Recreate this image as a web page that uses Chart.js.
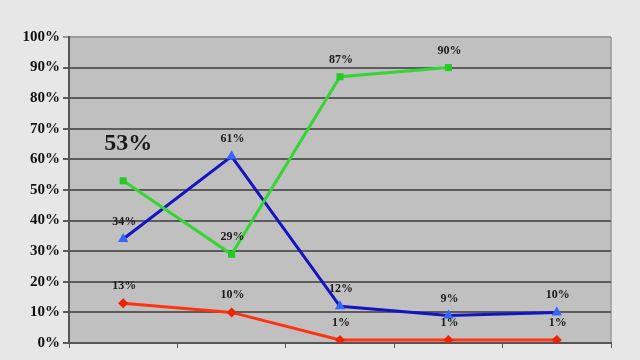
<!DOCTYPE html>
<html>
<head>
<meta charset="utf-8">
<script src="https://cdn.jsdelivr.net/npm/chart.js@4/dist/chart.umd.min.js"></script>
<style>
  html, body { margin: 0; padding: 0; background: #e7e7e7; }
  #wrap { width: 640px; height: 360px; }
</style>
</head>
<body>
<div id="wrap"><canvas id="mycanvas"></canvas></div>
<script>
var categories = ['1', '2', '3', '4', '5'];
var greenValues = [53, 29, 87, 90, null];
var blueValues = [34, 61, 12, 9, 10];
var redValues = [13, 10, 1, 1, 1];
var yTicks = [0, 10, 20, 30, 40, 50, 60, 70, 80, 90, 100];

var plotBg = {
  id: 'plotBg',
  beforeDraw: function(chart) {
    var a = chart.chartArea, c = chart.ctx;
    c.save();
    c.fillStyle = '#c0c0c0';
    c.fillRect(a.left, a.top, a.right - a.left, a.bottom - a.top);
    c.strokeStyle = '#a8a8a8';
    c.lineWidth = 2;
    c.beginPath();
    c.moveTo(a.right, a.top);
    c.lineTo(a.right, a.bottom);
    c.stroke();
    c.restore();
  }
};

var pointLabels = {
  id: 'pointLabels',
  afterDatasetsDraw: function(chart) {
    var c = chart.ctx;
    c.save();
    c.fillStyle = '#1a1a1a';
    c.textAlign = 'center';
    c.textBaseline = 'middle';
    chart.data.datasets.forEach(function(ds, i) {
      var meta = chart.getDatasetMeta(i);
      meta.data.forEach(function(pt, j) {
        var v = ds.data[j];
        if (v === null) return;
        if (i === 0 && j === 0) {
          c.font = 'bold 24px "Liberation Serif", serif';
          c.fillText(v + '%', pt.x + 5, pt.y - 37);
        } else {
          c.font = 'bold 12px "Liberation Serif", serif';
          c.fillText(v + '%', pt.x + 1, pt.y - 17);
        }
      });
    });
    c.restore();
  }
};

var ctx = document.getElementById('mycanvas');
var lineGraph = new Chart(ctx, {
  type: 'line',
  data: {
    labels: categories,
    datasets: [
      {
        label: 'Verde',
        data: greenValues,
        borderColor: '#33d633',
        backgroundColor: '#22cc22',
        borderWidth: 3,
        pointStyle: 'rect',
        pointRadius: 5,
        pointBorderWidth: 0
      },
      {
        label: 'Azul',
        data: blueValues,
        borderColor: '#1414c0',
        backgroundColor: '#3366ff',
        borderWidth: 3,
        pointStyle: 'triangle',
        pointRadius: 6,
        pointBorderWidth: 0
      },
      {
        label: 'Rojo',
        data: redValues,
        borderColor: '#ff3311',
        backgroundColor: '#ee2200',
        borderWidth: 3,
        pointStyle: 'rectRot',
        pointRadius: 5,
        pointBorderWidth: 0
      }
    ]
  },
  options: {
    responsive: true,
    maintainAspectRatio: false,
    animation: false,
    layout: { padding: { left: 0, top: 37, right: 29, bottom: 0 } },
    plugins: { legend: { display: false }, tooltip: { enabled: false } },
    scales: {
      x: {
        offset: true,
        afterFit: function(scale) { scale.height = 17; },
        ticks: { display: false },
        border: { color: '#555', width: 2 },
        grid: { offset: true, drawOnChartArea: false, drawTicks: true, tickLength: 5, color: '#555', lineWidth: 1 }
      },
      y: {
        min: 0,
        max: 100,
        afterFit: function(scale) { scale.width = 69; },
        afterBuildTicks: function(scale) {
          scale.ticks = yTicks.map(function(v) { return { value: v }; });
        },
        ticks: {
          color: '#111',
          padding: 3,
          font: { family: '"Liberation Serif", serif', weight: 'bold', size: 15 },
          callback: function(v) { return v + '%'; }
        },
        border: { color: '#555', width: 2 },
        grid: {
          color: function(c) { return c.tick && c.tick.value === 100 ? '#9a9a9a' : '#5c5c5c'; },
          lineWidth: 2,
          tickLength: 6
        }
      }
    }
  },
  plugins: [plotBg, pointLabels]
});
</script>
</body>
</html>
